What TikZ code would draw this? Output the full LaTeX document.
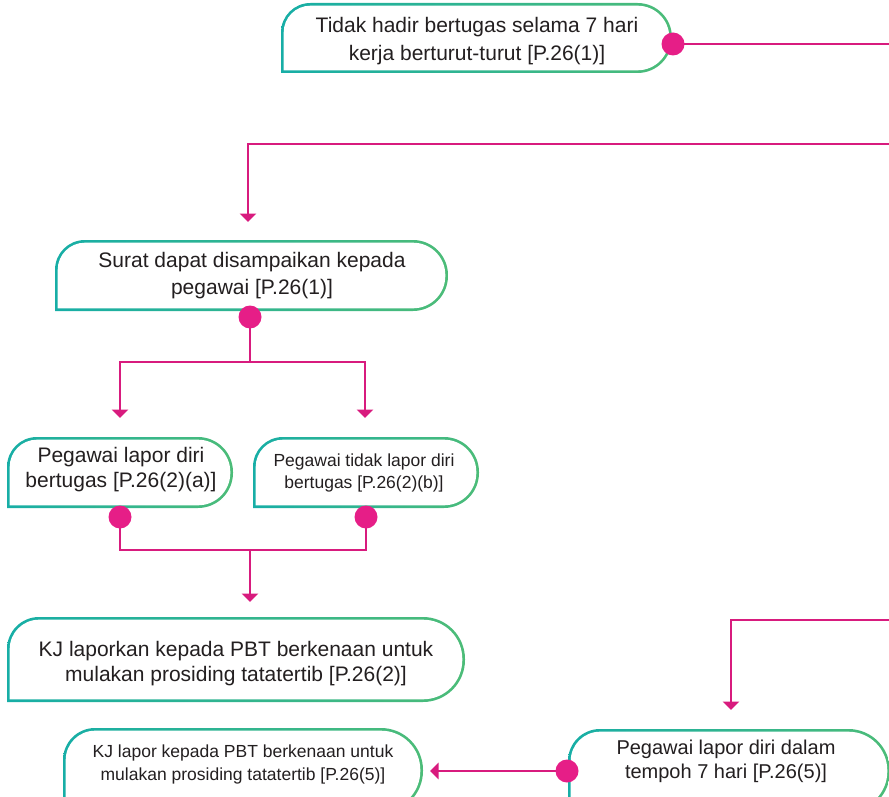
\documentclass[tikz,border=0pt]{standalone}
\usepackage{fontspec}
\setmainfont{Liberation Sans}
\usetikzlibrary{arrows.meta,calc}
\definecolor{tealc}{HTML}{17AEA6}
\definecolor{greenc}{HTML}{4CBC78}
\definecolor{magl}{HTML}{D81B7E}
\definecolor{magd}{HTML}{E61E87}
\definecolor{txt}{HTML}{231F20}
% name, x1, y1, x2, y2, text x, text y, font, text
\newcommand{\flowbox}[9]{%
 \pgfmathsetmacro{\fbh}{#5-#3}%
 \pgfmathsetmacro{\fbr}{min(0.42*\fbh,32)}%
 \pgfmathsetmacro{\fbR}{\fbh/2-0.5}%
 \pgfmathsetmacro{\fbri}{\fbr-2.7}%
 \pgfmathsetmacro{\fbRi}{\fbR-2.7}%
 \pgfmathsetmacro{\fbm}{(#2+#4)/2}%
 \shade[left color=tealc,right color=greenc] (#2,#5) -- (#2,#3+\fbh/2) [rounded corners=\fbr pt] -- (#2,#3) -- (\fbm,#3) [rounded corners=\fbR pt] -- (#4,#3) -- (#4,#5) -- (\fbm,#5) [sharp corners] -- cycle;
 \fill[white] (#2+2.7,#5-2.7) -- (#2+2.7,#3+\fbh/2) [rounded corners=\fbri pt] -- (#2+2.7,#3+2.7) -- (\fbm,#3+2.7) [rounded corners=\fbRi pt] -- (#4-2.7,#3+2.7) -- (#4-2.7,#5-2.7) -- (\fbm,#5-2.7) [sharp corners] -- cycle;
 \node[btxt,font={#8}] (#1) at (#6,#7) {#9};
}
\begin{document}
\begin{tikzpicture}[x=1pt,y=-1pt,
 conn/.style={draw=magl,line width=2.7pt},
 arr/.style={conn,-{Triangle[width=16pt,length=8.5pt]}},
 dot/.style={circle,fill=magd,minimum size=23pt,inner sep=0pt},
 btxt/.style={align=center,text=txt,inner sep=0pt}]
\useasboundingbox (0,0) rectangle (889,797);
\clip (0,0) rectangle (889,797);

\flowbox{n1}{281}{3}{672}{73}{477}{41}{\fontsize{21}{28}\selectfont}{Tidak hadir bertugas selama 7 hari\\kerja berturut-turut [P.26(1)]}
\flowbox{n2}{55}{240}{448}{311}{252}{276}{\fontsize{21}{27}\selectfont}{Surat dapat disampaikan kepada\\pegawai [P.26(1)]}
\flowbox{n3a}{7}{437}{233}{508}{121}{470}{\fontsize{21}{25}\selectfont}{Pegawai lapor diri\\bertugas [P.26(2)(a)]}
\flowbox{n3b}{253}{437}{479}{508}{364}{473}{\fontsize{17.5}{21.5}\selectfont}{Pegawai tidak lapor diri\\bertugas [P.26(2)(b)]}
\flowbox{n4}{7}{617}{465}{702}{236}{664}{\fontsize{21}{25}\selectfont}{KJ laporkan kepada PBT berkenaan untuk\\mulakan prosiding tatatertib [P.26(2)]}
\flowbox{n5}{63}{728}{423}{813}{243}{764}{\fontsize{17.5}{23}\selectfont}{KJ lapor kepada PBT berkenaan untuk\\mulakan prosiding tatatertib [P.26(5)]}
\flowbox{n6}{568}{729}{890}{813}{726}{761}{\fontsize{20}{24}\selectfont}{Pegawai lapor diri dalam\\tempoh 7 hari [P.26(5)]}

% dots
\coordinate (p1) at (673,44);
\coordinate (p2) at (250,317);
\coordinate (p3) at (120,517);
\coordinate (p4) at (366,517);
\coordinate (p6) at (567,771);
% connector points
\coordinate (e1) at (892,44);
\coordinate (s2) at (892,144);
\coordinate (t2) at (248,222);
\coordinate (j2) at (250,362);
\coordinate (t3a) at (120,418);
\coordinate (t3b) at (365,418);
\coordinate (j4) at (250,550);
\coordinate (t4) at (250,602);
\coordinate (s6) at (892,620);
\coordinate (t6) at (731,710);
\coordinate (t5) at (430,771);

\draw[conn] (p1) -- (e1);
\draw[arr] (s2) -| (t2);
\draw[arr] (p2) -- (j2) -| (t3a);
\draw[arr] (j2) -| (t3b);
\draw[conn] (p3) |- (j4);
\draw[conn] (p4) |- (j4);
\draw[arr] (j4) -- (t4);
\draw[arr] (s6) -| (t6);
\draw[arr] (p6) -- (t5);

\node[dot] (d1) at (p1) {};
\node[dot] (d2) at (p2) {};
\node[dot] (d3) at (p3) {};
\node[dot] (d4) at (p4) {};
\node[dot] (d6) at (p6) {};
\end{tikzpicture}
\end{document}
